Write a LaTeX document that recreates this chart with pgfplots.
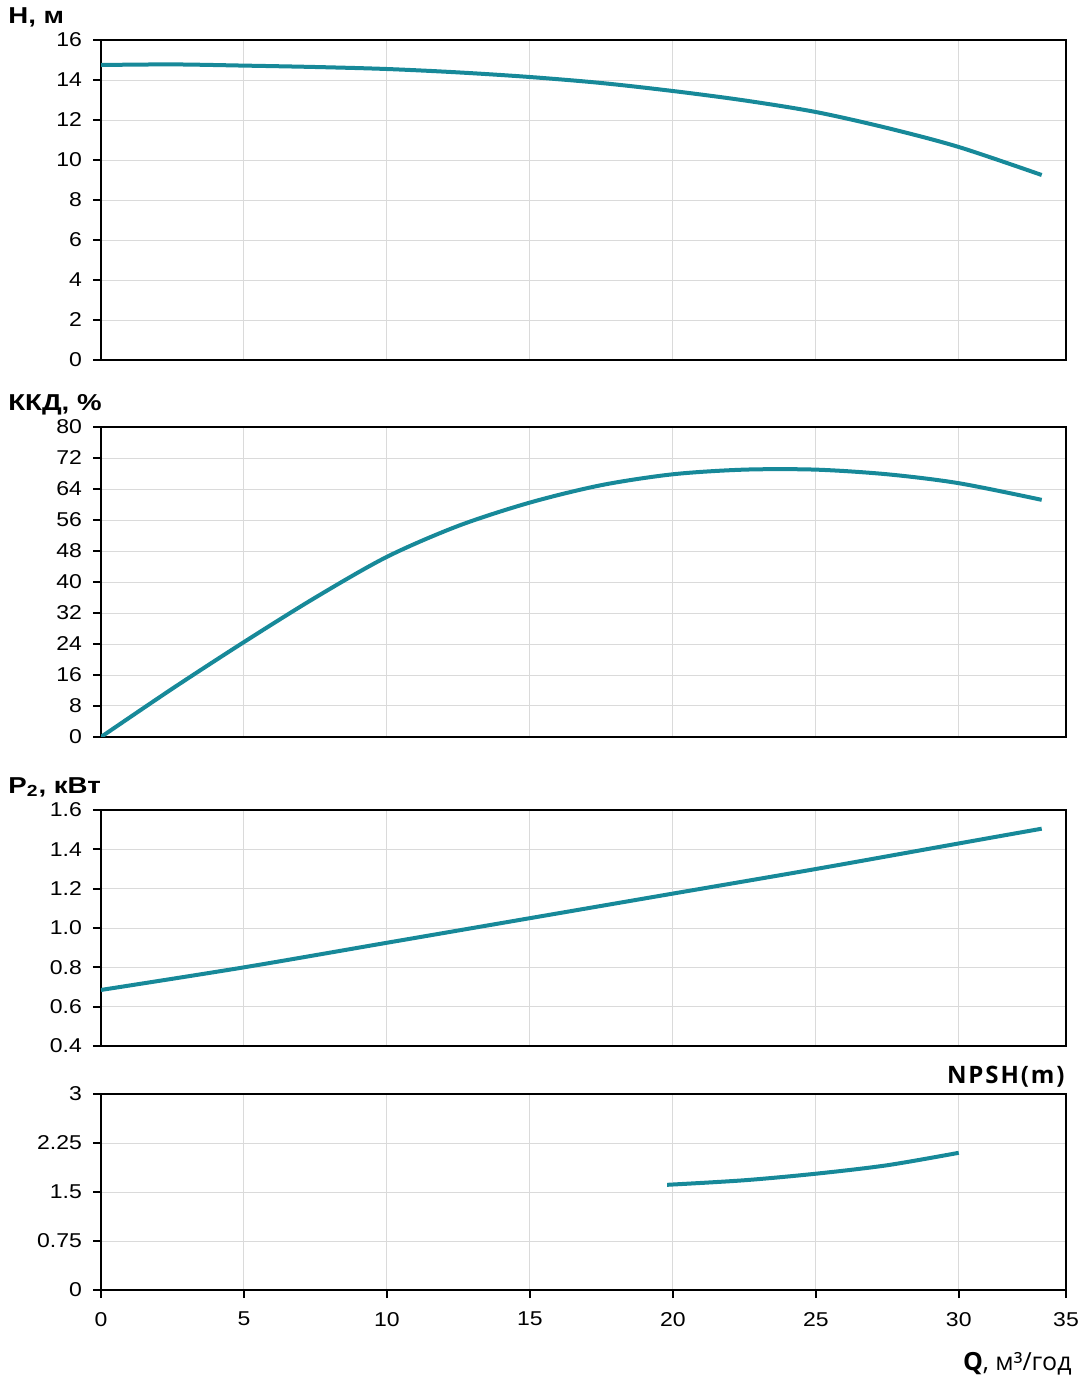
\documentclass[border=0pt]{standalone}
\usepackage{pgfplots}
\pgfplotsset{compat=1.18}
\usepackage{fontspec}
\setmainfont{Liberation Sans}
\newfontfamily\tickfont[FakeStretch=1.15]{Liberation Sans}
\newfontfamily\labfont[FakeStretch=1.2]{Liberation Sans}
\newfontfamily\osans{Open Sans}
\definecolor{tealc}{RGB}{23,137,153}
\definecolor{gridc}{RGB}{218,218,218}
\pgfplotsset{
  panel/.style={
    scale only axis, width=482.5pt, xmin=0, xmax=33.75,
    anchor=north west,
    axis line style={line width=1.2pt, black},
    grid=major, major grid style={gridc, line width=0.5pt},
    xtick={0,5,10,15,20,25,30,33.75},
    tick align=outside, major tick length=4pt,
    xtick pos=bottom, ytick pos=left,
    tick style={black, line width=1pt},
    /pgf/number format/assume math mode=true,
    tick label style={font=\tickfont\fontsize{10}{12}\selectfont},
    yticklabel style={xshift=-2pt},
  },
  pc/.style={tealc, line width=2pt, smooth, mark=none},
  notx/.style={xticklabels={}, xtick style={draw=none}},
}
\begin{document}
\begin{tikzpicture}
\path (0,0) rectangle (542.5pt,-691.5pt);
% Panel 1: H
\begin{axis}[panel, notx, at={(50.5pt,-20pt)}, height=160pt, ymin=0, ymax=16, ytick={0,2,...,16}]
\addplot[pc] coordinates {(0,14.75)(2.5,14.78)(5,14.72)(7.5,14.65)(10,14.55)(12.5,14.38)(15,14.15)(17.5,13.85)(20,13.45)(22.5,12.98)(25,12.4)(27.5,11.6)(30,10.65)(32.9,9.25)};
\end{axis}
% Panel 2: efficiency
\begin{axis}[panel, notx, at={(50.5pt,-213.5pt)}, height=155pt, ymin=0, ymax=80, ytick={0,8,...,80}]
\addplot[pc] coordinates {(0,0)(2.5,12.5)(5,24.5)(7.5,36)(10,46.5)(12.5,54.5)(15,60.5)(17.5,65)(20,67.8)(22.5,69)(25,69)(27.5,67.8)(30,65.5)(32.9,61.2)};
\end{axis}
% Panel 3: P2
\begin{axis}[panel, notx, at={(50.5pt,-405pt)}, height=118pt, ymin=0.4, ymax=1.6,
  ytick={0.4,0.6,0.8,1.0,1.2,1.4,1.6}, yticklabels={0.4,0.6,0.8,1.0,1.2,1.4,1.6}]
\addplot[pc] coordinates {(0,0.685)(5,0.80)(10,0.925)(15,1.05)(20,1.175)(25,1.30)(30,1.43)(32.9,1.505)};
\end{axis}
% Panel 4: NPSH
\begin{axis}[panel, at={(50.5pt,-547pt)}, height=98pt, ymin=0, ymax=3,
  ytick={0,0.75,1.5,2.25,3}, yticklabels={0,0.75,1.5,2.25,3},
  xticklabels={0,5,10,15,20,25,30,35},
  xticklabel style={yshift=-3.5pt}]
\addplot[pc] coordinates {(19.8,1.61)(22.5,1.68)(25,1.78)(27.5,1.91)(30,2.10)};
\end{axis}
% Labels
\node[anchor=base west, inner sep=0pt, font=\labfont\fontsize{11.5}{13}\selectfont\bfseries] at (4pt,-11.5pt) {H, м};
\node[anchor=base west, inner sep=0pt, font=\labfont\fontsize{11.5}{13}\selectfont\bfseries] at (4pt,-205pt) {ККД, \%};
\node[anchor=base west, inner sep=0pt, font=\labfont\fontsize{11.5}{13}\selectfont\bfseries] at (4pt,-396.5pt) {P\textsubscript{2}, кВт};
\node[anchor=base east, inner sep=0pt, font=\osans\fontsize{12}{14}\selectfont\bfseries\addfontfeature{LetterSpace=8}] at (532.5pt,-541.5pt) {NPSH(m)};
\node[anchor=base east, inner sep=0pt, font=\osans\fontsize{12.5}{14}\selectfont] at (536pt,-685pt) {\textbf{Q}, м³/год};
\end{tikzpicture}
\end{document}
